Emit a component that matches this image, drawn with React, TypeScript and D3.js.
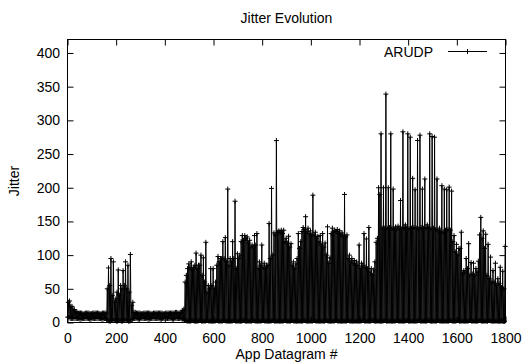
import React, { useRef, useEffect } from 'react';
import * as d3 from 'd3';

// one entry per bin of 10 datagrams (0..1799)
const binSize = 10;

// top of the dense black band in each bin
const bulk = [
  30, 24, 19, 16, 14, 14, 13, 14, 14, 13, 14, 14, 14, 13, 14, 14,
  50, 55, 40, 30, 45, 40, 50, 55, 50, 45, 25,
  15, 14, 14, 13, 14, 14, 14, 13, 14, 14, 14, 14, 13, 14, 14, 14, 14, 15, 14, 15, 18,
  60, 80, 82, 78, 85, 80, 85, 70, 60, 45, 50, 55, 50, 85, 90, 95, 95, 90, 85, 90, 95, 80,
  95, 120, 122, 125, 118, 112, 112, 115, 80, 85,
  82, 80, 85, 95, 100, 130, 134, 134, 132, 120,
  118, 112, 85, 80, 95, 110, 135, 138, 135, 132,
  130, 130, 125, 120, 115, 112, 100, 88, 132, 134,
  135, 132, 130, 128, 127, 95, 90, 88, 85, 85,
  80, 85, 82, 80, 75, 70, 90, 125,
  190, 140, 140, 140, 141, 140, 138, 139, 140, 139,
  141, 140, 139, 140, 141, 140, 139, 141, 140, 141,
  140, 139, 140, 138, 136, 135, 134, 137, 138, 137,
  120, 105, 100, 110, 72, 75, 80, 70, 72, 70,
  75, 130, 125, 110, 70, 65, 60, 60, 55, 58,
  52, 50,
];

// highest jitter in each bin (spikes)
const peaks = [
  32, 24, 19, 16, 14, 14, 13, 14, 14, 13, 14, 14, 14, 13, 14, 14,
  81, 95, 90, 35, 78, 55, 77, 90, 85, 101, 30,
  15, 14, 14, 13, 14, 14, 14, 13, 14, 14, 14, 14, 13, 14, 14, 14, 14, 15, 14, 15, 20,
  70, 87, 90, 82, 103, 85, 100, 96, 119, 55, 80, 80, 60, 98, 95, 120, 126, 198, 95, 120, 180, 102,
  100, 129, 129, 127, 122, 115, 129, 132, 90, 115,
  88, 85, 147, 199, 133, 270, 136, 137, 137, 125,
  128, 117, 90, 87, 132, 120, 141, 157, 140, 136,
  189, 134, 128, 129, 132, 118, 142, 96, 140, 137,
  138, 136, 133, 190, 130, 100, 95, 92, 90, 115,
  88, 132, 124, 141, 80, 78, 119, 200,
  280, 200, 339, 200, 280, 198, 142, 143, 181, 283,
  145, 280, 275, 214, 197, 270, 278, 198, 213, 145,
  280, 276, 275, 213, 140, 203, 198, 197, 201, 195,
  129, 116, 110, 134, 77, 95, 117, 89, 88, 80,
  91, 156, 136, 131, 116, 97, 77, 88, 65, 82,
  76, 113,
];

// lowest jitter in each bin
const troughs = [
  8, 6, 6, 6, 6, 5, 6, 6, 6, 5, 6, 6, 6, 6, 5, 6,
  3, 2, 3, 3, 2, 3, 2, 3, 3, 2, 4,
  6, 6, 5, 6, 6, 6, 5, 6, 6, 6, 6, 5, 6, 6, 6, 6, 5, 6, 6, 6, 5,
  3, 2, 2, 3, 2, 2, 3, 2, 2, 3, 2, 2, 2, 3, 2, 2, 3, 2, 2, 2, 3, 2,
  2, 2, 3, 2, 2, 2, 3, 2, 2, 2,
  3, 2, 2, 2, 3, 2, 2, 2, 2, 3,
  2, 2, 3, 2, 2, 2, 2, 3, 2, 2,
  2, 3, 2, 2, 2, 2, 3, 2, 2, 2,
  3, 2, 2, 2, 2, 3, 2, 2, 2, 2,
  2, 3, 2, 2, 2, 3, 2, 2,
  2, 2, 3, 2, 2, 2, 2, 3, 2, 2,
  2, 3, 2, 2, 2, 2, 3, 2, 2, 2,
  3, 2, 2, 2, 3, 2, 2, 2, 2, 3,
  2, 2, 3, 2, 2, 2, 2, 3, 2, 2,
  2, 3, 2, 2, 2, 3, 2, 2, 2, 2,
  3, 2,
];

const xTicks = [0, 200, 400, 600, 800, 1000, 1200, 1400, 1600, 1800];
const yTicks = [0, 50, 100, 150, 200, 250, 300, 350, 400];

const seriesName = 'ARUDP';

const font = "'Liberation Sans', Arial, Helvetica, sans-serif";

const App = () => {
  const svgRef = useRef<SVGSVGElement>(null);

  useEffect(() => {
    const svg = d3.select(svgRef.current);
    svg.selectAll('*').remove();

    const width = 522;
    const height = 364;
    const left = 67.5, right = 505.5, top = 39.5, bottom = 322.5;

    const xScale = d3.scaleLinear().domain([0, 1800]).range([left, right]);
    const yScale = d3.scaleLinear().domain([0, 420]).range([bottom, top]);

    svg.append('rect').attr('width', width).attr('height', height).attr('fill', '#fff');

    // series: trough, bulk, trough, peak within every bin
    const points: [number, number][] = [];
    bulk.forEach((b, i) => {
      const d0 = i * binSize;
      points.push([d0 + 1, troughs[i]]);
      points.push([d0 + 3.5, b]);
      points.push([d0 + 6, troughs[i]]);
      points.push([d0 + 8.5, peaks[i]]);
    });

    const line = d3.line<[number, number]>()
      .x(d => xScale(d[0]))
      .y(d => yScale(d[1]));

    svg.append('path')
      .datum(points)
      .attr('d', line)
      .attr('fill', 'none')
      .attr('stroke', '#000')
      .attr('stroke-width', 1);

    const ps = 2.5;
    const marks = points.map(d => {
      const x = xScale(d[0]), y = yScale(d[1]);
      return `M${x - ps},${y}h${2 * ps}M${x},${y - ps}v${2 * ps}`;
    }).join('');
    svg.append('path').attr('d', marks).attr('stroke', '#000').attr('stroke-width', 1).attr('fill', 'none');

    // axes, ticks inward on all four sides
    const tickLen = 6;
    const fmt = d3.format('d');
    svg.append('g')
      .attr('transform', `translate(0,${bottom})`)
      .call(d3.axisBottom(xScale).tickValues(xTicks).tickFormat(fmt).tickSizeInner(-tickLen).tickSizeOuter(0).tickPadding(11));
    svg.append('g')
      .attr('transform', `translate(0,${top})`)
      .call(d3.axisTop(xScale).tickValues(xTicks).tickSizeInner(-tickLen).tickSizeOuter(0).tickFormat(() => ''));
    svg.append('g')
      .attr('transform', `translate(${left},0)`)
      .call(d3.axisLeft(yScale).tickValues(yTicks).tickFormat(fmt).tickSizeInner(-tickLen).tickSizeOuter(0).tickPadding(7.5));
    svg.append('g')
      .attr('transform', `translate(${right},0)`)
      .call(d3.axisRight(yScale).tickValues(yTicks).tickSizeInner(-tickLen).tickSizeOuter(0).tickFormat(() => ''));

    svg.selectAll('.domain').remove();
    svg.selectAll('.tick line').attr('stroke', '#000');
    svg.selectAll('.tick text')
      .style('font-family', font)
      .style('font-size', '14px')
      .attr('fill', '#000');

    svg.append('rect')
      .attr('x', left).attr('y', top)
      .attr('width', right - left).attr('height', bottom - top)
      .attr('fill', 'none').attr('stroke', '#000').attr('stroke-width', 1);

    const text = (x: number, y: number, s: string, anchor = 'middle') =>
      svg.append('text')
        .attr('x', x).attr('y', y)
        .attr('text-anchor', anchor)
        .style('font-family', font)
        .style('font-size', '14px')
        .attr('fill', '#000')
        .text(s);

    text((left + right) / 2, 23, 'Jitter Evolution');
    text((left + right) / 2, 359, 'App Datagram #');
    text(0, 0, 'Jitter').attr('transform', `translate(19,${(top + bottom) / 2}) rotate(-90)`);

    // key
    const ky = 51.5;
    text(433, ky + 5, seriesName, 'end');
    svg.append('line').attr('x1', 448).attr('x2', 487).attr('y1', ky).attr('y2', ky)
      .attr('stroke', '#000').attr('stroke-width', 1);
    svg.append('path')
      .attr('d', `M${467.5 - ps},${ky}h${2 * ps}M467.5,${ky - ps}v${2 * ps}`)
      .attr('stroke', '#000').attr('stroke-width', 1);
  }, []);

  return (
    <svg ref={svgRef} width={522} height={364}
      style={{ position: 'absolute', left: 0, top: 0, display: 'block' }} />
  );
};

export default App;
